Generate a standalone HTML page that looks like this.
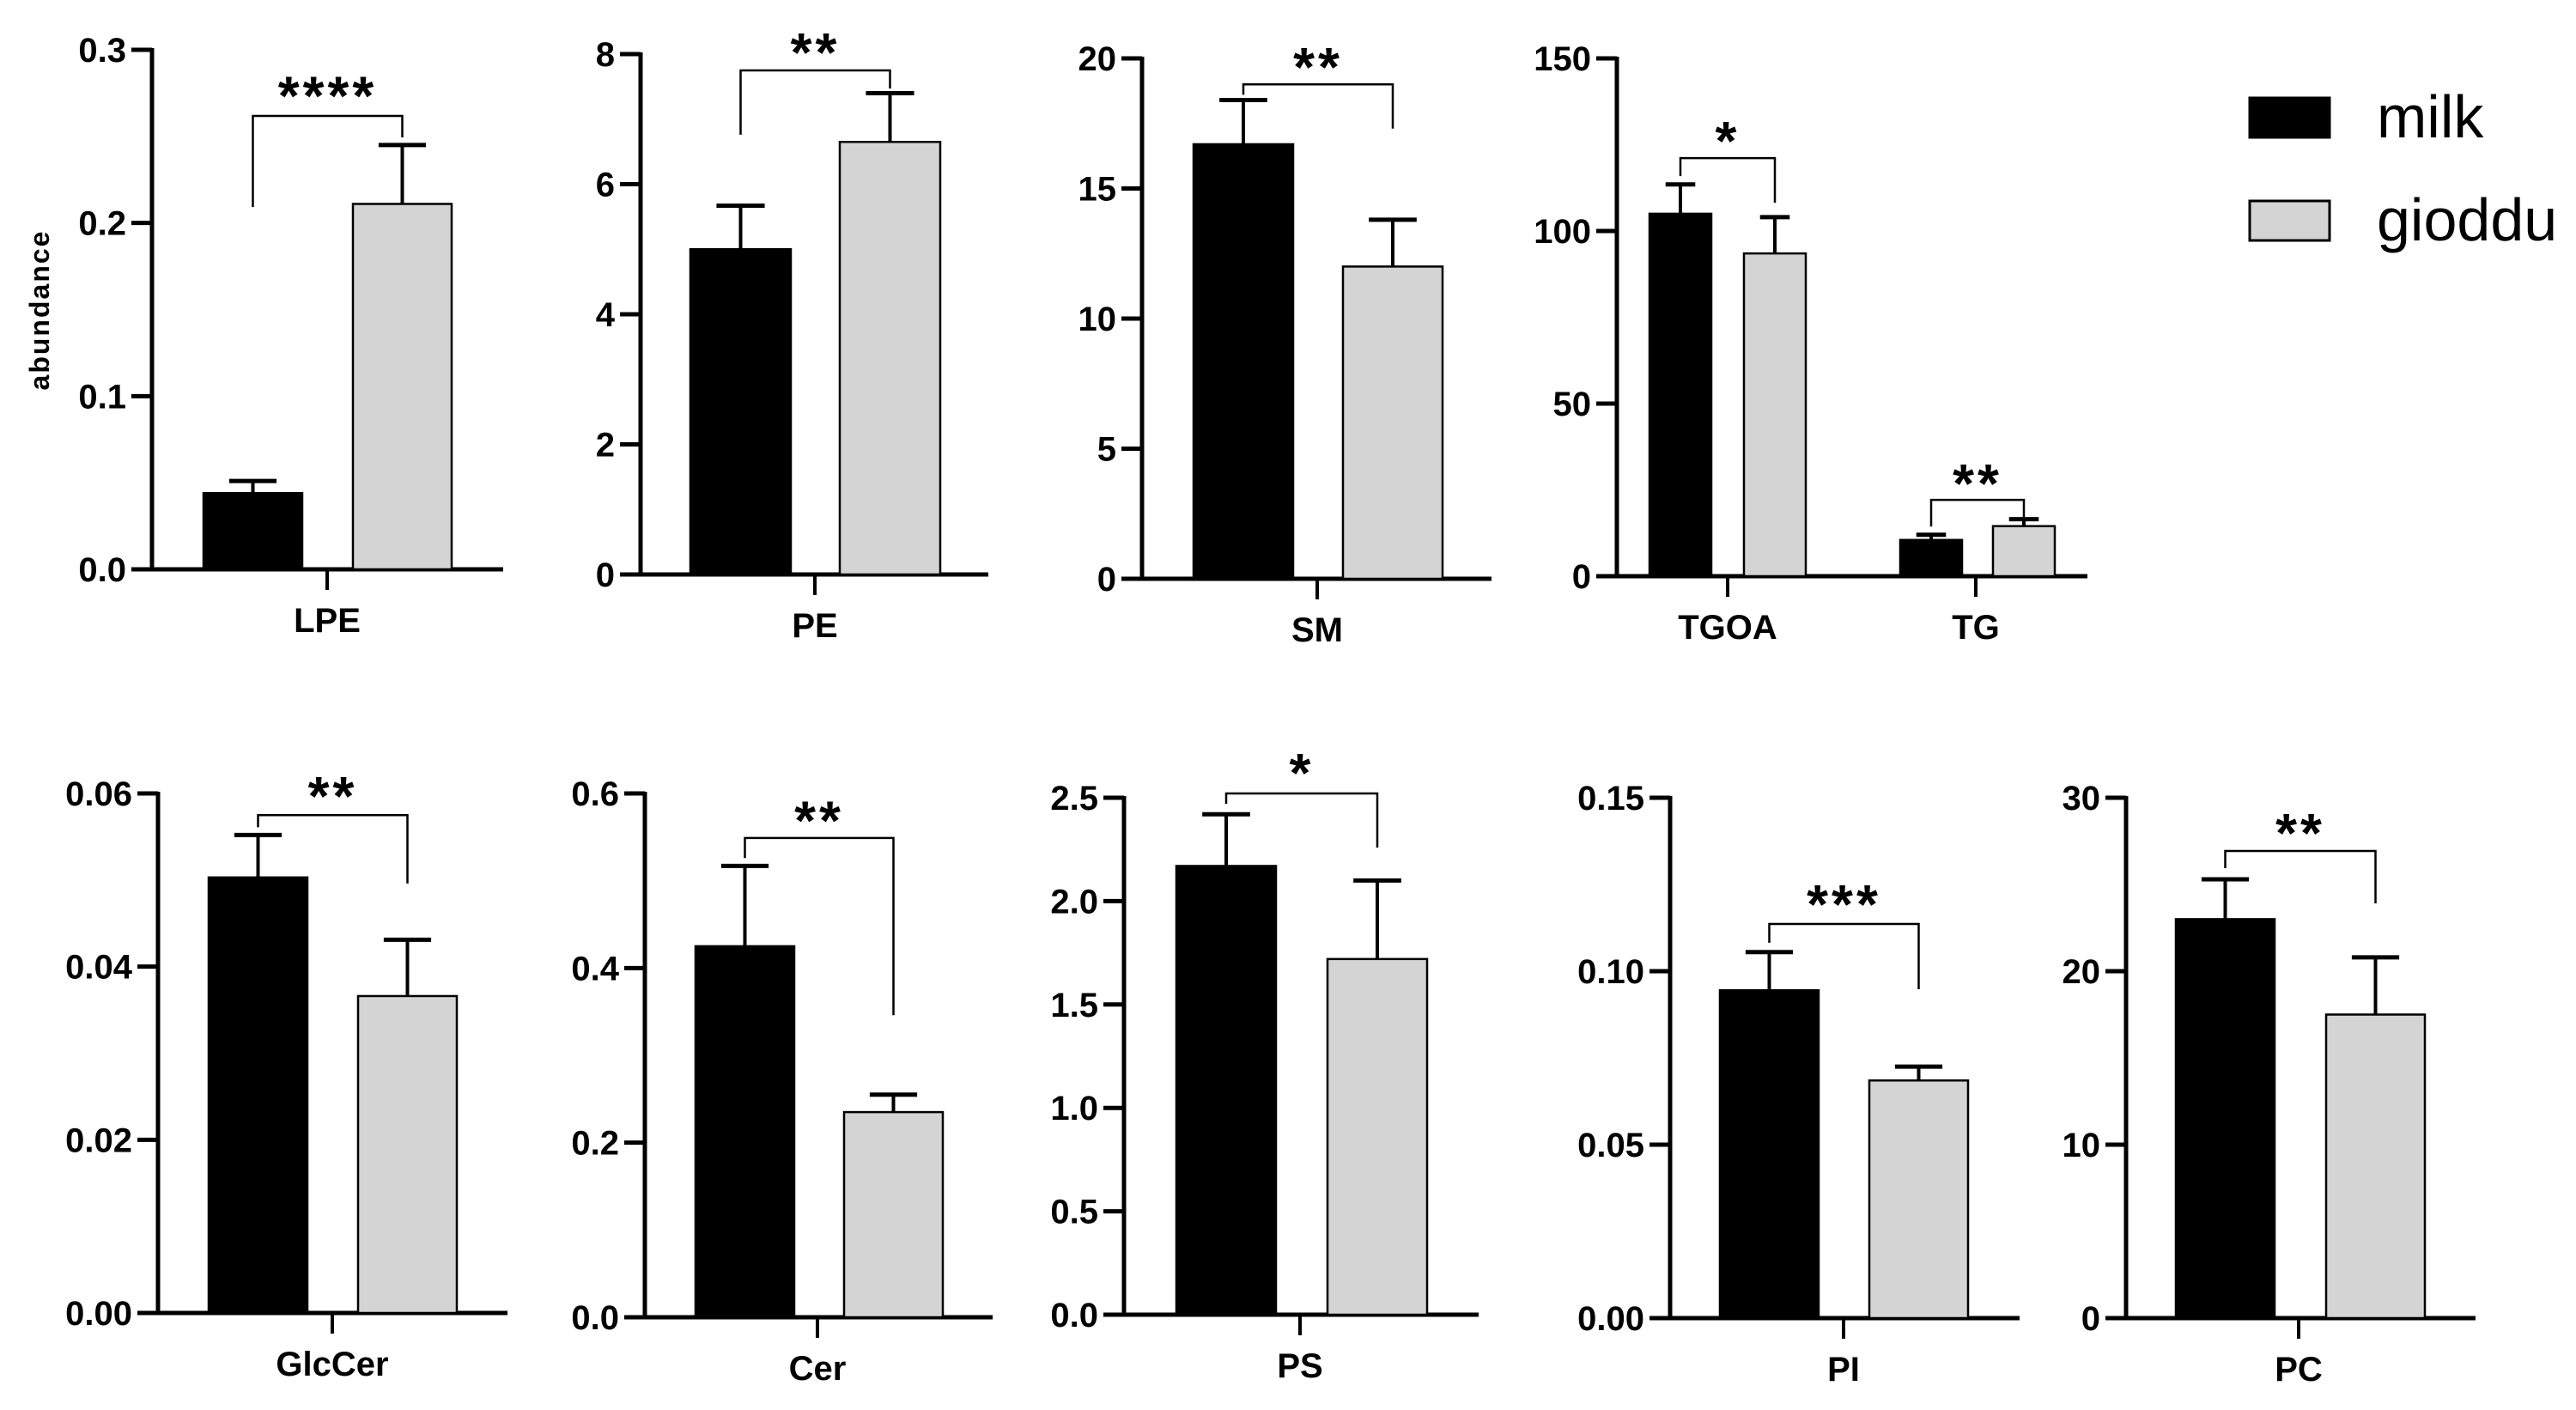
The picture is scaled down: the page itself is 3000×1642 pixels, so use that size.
<!DOCTYPE html>
<html><head><meta charset="utf-8"><style>
html,body{margin:0;padding:0;background:#fff;}
svg{display:block;}
text{font-family:"Liberation Sans",Arial,sans-serif;}
</style></head><body>
<svg id="fig" width="3000" height="1642" viewBox="0 0 3000 1642" xmlns="http://www.w3.org/2000/svg">
<rect width="3000" height="1642" fill="#fff"/>
<text x="0" y="0" transform="translate(57,361) rotate(-90)" text-anchor="middle" font-size="32" font-weight="bold" letter-spacing="2">abundance</text>
<g>
<rect x="2620" y="114" width="93" height="46" fill="#000" stroke="#000" stroke-width="3"/>
<text x="2768" y="160" font-size="70">milk</text>
<rect x="2620" y="234" width="93" height="46" fill="#d4d4d4" stroke="#000" stroke-width="3"/>
<text x="2768" y="280" font-size="70">gioddu</text>
</g>
</svg>
<script>
// ---- data ----
const categories = [["LPE"],["PE"],["SM"],["TGOA","TG"],["GlcCer"],["Cer"],["PS"],["PI"],["PC"]];
const milkMean = [[0.044],[5.0],[16.7],[105,10.5],[0.0503],[0.425],[2.17],[0.0945],[23.0]];
const milkErr  = [[0.051],[5.67],[18.4],[113.5,12],[0.0552],[0.517],[2.42],[0.1055],[25.3]];
const giodduMean = [[0.211],[6.65],[12.0],[93.5,14.5],[0.0366],[0.235],[1.72],[0.0685],[17.5]];
const giodduErr  = [[0.245],[7.4],[13.8],[104,16.5],[0.0431],[0.255],[2.10],[0.0725],[20.8]];
const yMax = [0.3,8,20,150,0.06,0.6,2.5,0.15,30];
const tickValues = [[0,0.1,0.2,0.3],[0,2,4,6,8],[0,5,10,15,20],[0,50,100,150],[0,0.02,0.04,0.06],[0,0.2,0.4,0.6],[0,0.5,1,1.5,2,2.5],[0,0.05,0.1,0.15],[0,10,20,30]];
const tickLabels = [["0.0","0.1","0.2","0.3"],["0","2","4","6","8"],["0","5","10","15","20"],["0","50","100","150"],["0.00","0.02","0.04","0.06"],["0.0","0.2","0.4","0.6"],["0.0","0.5","1.0","1.5","2.0","2.5"],["0.00","0.05","0.10","0.15"],["0","10","20","30"]];
const sigStars = [["****"],["**"],["**"],["*","**"],["**"],["**"],["*"],["***"],["**"]];
const bracketTop = [[0.2618],[7.75],[19.0],[121.1,22.1],[0.0575],[0.549],[2.521],[0.1136],[26.93]];
const bracketLeft = [[0.2092],[6.76],[18.6],[115.9,14.4],[0.0561],[0.526],[2.471],[0.1082],[25.94]];
const bracketRight = [[0.2494],[7.47],[17.3],[108.2,15.9],[0.0496],[0.346],[2.259],[0.0948],[23.91]];
const starLevel = [[0.2814],[8.24],[20.2],[130.1,30.8],[0.0613],[0.585],[2.687],[0.1233],[28.76]];

// ---- layout (pixels) ----
const layout = [
 {ax:177,y0:663,yt:58,xe:586,bw:115,g:[[237,411,381]]},
 {ax:746,y0:669,yt:63,xe:1151,bw:117,g:[[804,978,949]]},
 {ax:1330,y0:674,yt:68,xe:1737,bw:116,g:[[1390,1564,1534]]},
 {ax:1883,y0:671,yt:68,xe:2431,bw:72,g:[[1921,2031,2012],[2213,2321,2301]]},
 {ax:184,y0:1529,yt:924,xe:591,bw:115,g:[[243,417,387]]},
 {ax:751,y0:1534,yt:924,xe:1156,bw:115,g:[[810,983,952]]},
 {ax:1309,y0:1531,yt:929,xe:1722,bw:116,g:[[1370,1546,1514]]},
 {ax:1945,y0:1535,yt:929,xe:2352,bw:115,g:[[2003,2177,2147]]},
 {ax:2476,y0:1535,yt:929,xe:2883,bw:115,g:[[2534,2709,2677]]}
];
const NS="http://www.w3.org/2000/svg";
const svg=document.getElementById('fig');
function mk(tag,attrs,parent){const e=document.createElementNS(NS,tag);for(const k in attrs)e.setAttribute(k,attrs[k]);parent.appendChild(e);return e;}
function line(p,x1,y1,x2,y2,w){return mk('line',{x1,y1,x2,y2,stroke:'#000','stroke-width':w},p);}

layout.forEach((L,pi)=>{
  const yS=v=>L.y0-(v/yMax[pi])*(L.y0-L.yt);
  const g=mk('g',{},svg);
  
  
  const ya=line(g,L.ax,L.yt-2,L.ax,L.y0+2.5,5);
  
  
  tickValues[pi].forEach((tv,ti)=>{
    const y=yS(tv);
    const t=line(g,L.ax-24,y,L.ax,y,5);
    
    
    const tx=mk('text',{x:L.ax-30,y:y+14,'text-anchor':'end','font-size':40,'font-weight':'bold'},g);
    tx.textContent=tickLabels[pi][ti];
    
    
  });
  const xa=line(g,L.ax-2.5,L.y0,L.xe,L.y0,5);
  
  
  L.g.forEach((gp,gi)=>{
    const [bx,gx,tx]=gp;
    const cat=categories[pi][gi];
    const series=[[bx,milkMean[pi][gi],milkErr[pi][gi],'#000','milk'],[gx,giodduMean[pi][gi],giodduErr[pi][gi],'#d4d4d4','gioddu']];
    series.forEach(s=>{
      const [x,m,e,fill,nm]=s;
      const cx=x+L.bw/2, cap=L.bw*0.48;
      const el=line(g,cx,yS(m),cx,yS(e),4);
      
      
      const c=line(g,cx-cap/2,yS(e),cx+cap/2,yS(e),5);
      
      
      const r=mk('rect',{x:x,y:yS(m),width:L.bw,height:L.y0-yS(m),fill:fill,stroke:'#000','stroke-width':2.5},g);
      
      
    });
    const ct=line(g,tx,L.y0,tx,L.y0+24,4);
    
    
    const lb=mk('text',{x:tx,y:L.y0+73,'text-anchor':'middle','font-size':40,'font-weight':'bold'},g);
    lb.textContent=cat;
    
    
    const lx=bx+L.bw/2, rx=gx+L.bw/2, ty=yS(bracketTop[pi][gi]);
    const br=mk('path',{d:`M${lx},${yS(bracketLeft[pi][gi])} L${lx},${ty} L${rx},${ty} L${rx},${yS(bracketRight[pi][gi])}`,fill:'none',stroke:'#000','stroke-width':2.5},g);
    
    
    const st=mk('text',{x:(lx+rx)/2,y:yS(starLevel[pi][gi])+38,'text-anchor':'middle','font-size':64,'font-weight':'bold','letter-spacing':4},g);
    st.textContent=sigStars[pi][gi];
    
    
  });
});
</script>
</body></html>
